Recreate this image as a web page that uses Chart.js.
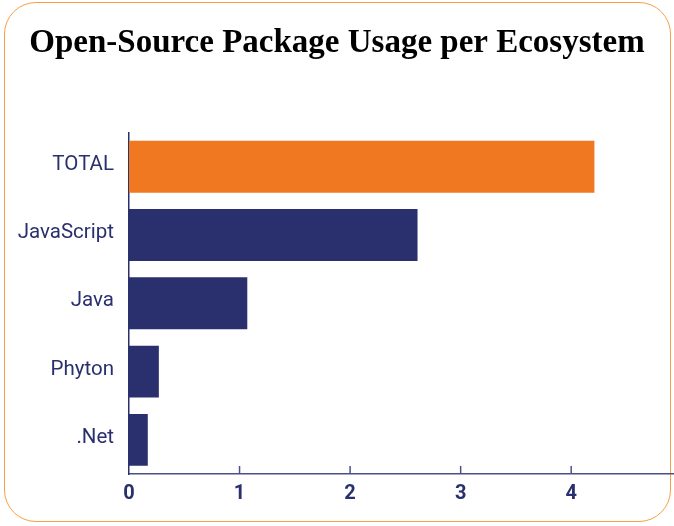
<!DOCTYPE html>
<html>
<head>
<meta charset="utf-8">
<script src="https://cdn.jsdelivr.net/npm/chart.js@4/dist/chart.umd.min.js"></script>
<style>
  html, body { margin: 0; padding: 0; background: #ffffff; }
  #wrap { position: relative; width: 674px; height: 526px; overflow: hidden; }
  #card {
    position: absolute; left: 4px; top: 2px; width: 667px; height: 520px;
    border: 1.5px solid #f7a047; border-radius: 32px; box-sizing: border-box;
  }
  #chart { position: absolute; left: 0; top: 0; }
</style>
</head>
<body>
<div id="wrap">
  <div id="card"></div>
  <canvas id="chart" width="674" height="526"></canvas>
</div>
<script>
// Ecosystems and their usage values
const ecosystems = ['TOTAL', 'JavaScript', 'Java', 'Phyton', '.Net'];
const usage = [4.21, 2.61, 1.07, 0.27, 0.17];
const barColors = ['#ef7820', '#29306d', '#29306d', '#29306d', '#29306d'];

const navy = '#29306d';

// Short tick marks pointing up from the x axis
const innerTicks = {
  id: 'innerTicks',
  afterDatasetsDraw(chart) {
    const ctx = chart.ctx;
    const x = chart.scales.x;
    const bottom = chart.chartArea.bottom;
    ctx.save();
    ctx.strokeStyle = '#4b5088';
    ctx.lineWidth = 1.5;
    x.ticks.forEach((t, i) => {
      if (i === 0) return;
      const px = x.getPixelForTick(i);
      ctx.beginPath();
      ctx.moveTo(px, bottom - 8);
      ctx.lineTo(px, bottom);
      ctx.stroke();
    });
    ctx.restore();
  }
};

const chart = new Chart(document.getElementById('chart'), {
  type: 'bar',
  data: {
    labels: ecosystems,
    datasets: [{
      data: usage,
      backgroundColor: barColors,
      borderWidth: 0,
      categoryPercentage: 1,
      barPercentage: 0.76
    }]
  },
  options: {
    indexAxis: 'y',
    responsive: false,
    animation: false,
    layout: { padding: { left: 0, right: 0, top: 0, bottom: 0 } },
    plugins: {
      legend: { display: false },
      tooltip: { enabled: false },
      title: {
        display: true,
        text: 'Open-Source Package Usage per Ecosystem',
        color: '#000000',
        font: { family: '"Liberation Serif", serif', size: 33, weight: 'bold', lineHeight: 1.2 },
        padding: { top: 24, bottom: 69 }
      }
    },
    scales: {
      x: {
        min: 0,
        max: 4.93,
        ticks: {
          stepSize: 1,
          includeBounds: false,
          color: navy,
          padding: 8,
          font: { family: 'Roboto', size: 20, weight: 'bold' }
        },
        grid: { display: false, drawTicks: false },
        border: { display: true, color: '#4b5088', width: 1.5 },
        afterFit(scale) { scale.height = 52; }
      },
      y: {
        ticks: {
          color: navy,
          padding: 15,
          labelOffset: -2,
          font: { family: 'Roboto', size: 20.5 }
        },
        grid: { display: false, drawTicks: false },
        border: { display: true, color: navy, width: 1.5 },
        afterFit(scale) { scale.width = 129; }
      }
    }
  },
  plugins: [innerTicks]
});
</script>
</body>
</html>
